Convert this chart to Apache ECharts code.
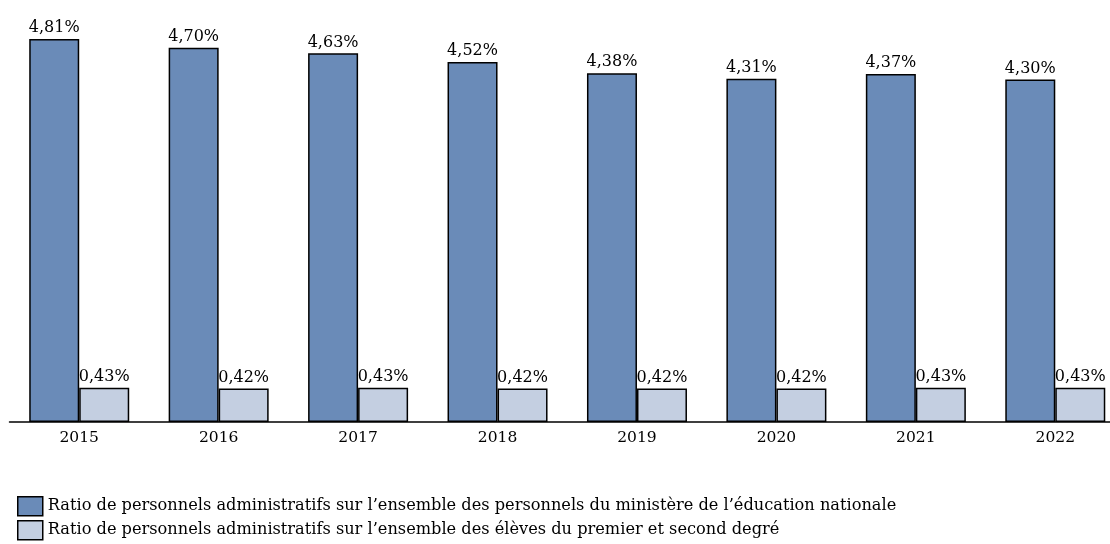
<!DOCTYPE html>
<html><head><meta charset="utf-8">
<script src="https://cdn.jsdelivr.net/npm/echarts@6/dist/echarts.min.js"></script>
<style>html,body{margin:0;padding:0;background:#fff;overflow:hidden;width:1110px;height:544px}#c{width:1125px;height:544px}</style>
</head><body><div id="c"></div>
<script>
const categories = ['2015','2016','2017','2018','2019','2020','2021','2022'];
const seriesNames = [
  'Ratio de personnels administratifs sur l\u2019ensemble des personnels du ministère de l\u2019éducation nationale',
  'Ratio de personnels administratifs sur l\u2019ensemble des élèves du premier et second degré'
];
const ratioPersonnels = [4.81, 4.70, 4.63, 4.52, 4.38, 4.31, 4.37, 4.30];
const ratioEleves = [0.43, 0.42, 0.43, 0.42, 0.42, 0.42, 0.43, 0.43];

const FONT = 'DejaVu Serif';
const fmt = p => p.value.toFixed(2).replace('.', ',') + '%';
const legendBase = {
  orient: 'horizontal', left: 12, itemWidth: 25, itemHeight: 19, icon: 'rect',
  itemStyle: {borderColor: '#000', borderWidth: 1.5},
  textStyle: {color: '#000', fontFamily: FONT, fontSize: 16.2}
};
const chart = echarts.init(document.getElementById('c'));
chart.setOption({
  animation: false,
  textStyle: {fontFamily: FONT},
  grid: {left: 9.5, right: 0, top: 0, bottom: 122},
  xAxis: {
    type: 'category', data: categories,
    axisLine: {lineStyle: {color: '#000', width: 1.5}},
    axisTick: {show: false},
    axisLabel: {color: '#000', fontFamily: FONT, fontSize: 15.5, margin: 8}
  },
  yAxis: {type: 'value', min: 0, max: 5.3, show: false, splitLine: {show: false}},
  legend: [
    Object.assign({}, legendBase, {top: 491, data: [seriesNames[0]]}),
    Object.assign({}, legendBase, {top: 515, data: [seriesNames[1]]})
  ],
  series: [
    {name: seriesNames[0], type: 'bar', data: ratioPersonnels, barWidth: 50, barGap: '0%',
     itemStyle: {color: '#6a8bb8', borderColor: '#000', borderWidth: 1.5},
     label: {show: true, position: 'top', distance: 3, color: '#000', fontFamily: FONT, fontSize: 16, formatter: fmt}},
    {name: seriesNames[1], type: 'bar', data: ratioEleves, barWidth: 50,
     itemStyle: {color: '#c4cfe1', borderColor: '#000', borderWidth: 1.5},
     label: {show: true, position: 'top', distance: 3, color: '#000', fontFamily: FONT, fontSize: 16, formatter: fmt}}
  ]
});
</script></body></html>
